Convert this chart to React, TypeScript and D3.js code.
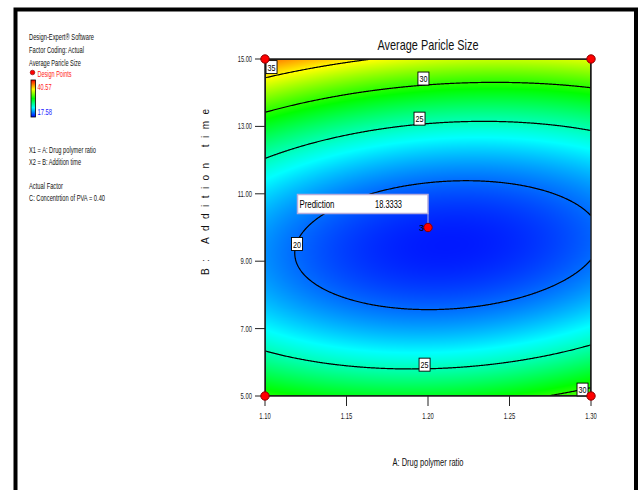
import React, { useMemo } from 'react';
import * as d3 from 'd3';

// ---------- data ----------
const A_DOMAIN = [1.1, 1.3];
const B_DOMAIN = [5.0, 15.0];
const X_TICKS = [1.1, 1.15, 1.2, 1.25, 1.3];
const Y_TICKS = [5, 7, 9, 11, 13, 15];
const CONTOUR_LEVELS = [20, 25, 30, 35];
// coded quadratic response-surface model: Intercept, A, B, AB, A², B²
const MODEL_COEFS = [18.33, -0.65, 2.86, -1.3, 2.15, 12.9];
const RESPONSE_RANGE = [17.58, 40.57];
const COLOR_STOPS = ['#0000ff', '#00ffff', '#00ff00', '#ffff00', '#ff0000'];
const DESIGN_A = [1.1, 1.3, 1.1, 1.3, 1.2];
const DESIGN_B = [15, 15, 5, 5, 10];
const DESIGN_COUNT = [1, 1, 1, 1, 3];
const LABEL_LEVELS = [35, 30, 25, 20, 25, 30];
const LABEL_A = [1.104, 1.1972, 1.1948, 1.1196, 1.1979, 1.2948];
const LABEL_B = [14.76, 14.42, 13.23, 9.51, 5.93, 5.19];
const PREDICTION = { a: 1.2, b: 10, label: 'Prediction', value: '18.3333' };
const LEGEND_LINES = ['Design-Expert® Software', 'Factor Coding: Actual', 'Average Paricle Size'];
const FACTOR_LINES = ['X1 = A: Drug polymer ratio', 'X2 = B: Addition time'];
const ACTUAL_LINES = ['Actual Factor', 'C: Concentrtion of PVA = 0.40'];

const TITLE = 'Average Paricle Size';
const X_LABEL = 'A: Drug polymer ratio';
const Y_LABEL = 'B: Addition time';

// ---------- layout ----------
const W = 639;
const H = 490;
const PL = 265, PR = 591, PT = 59, PB = 396;
const NARROW = "'Liberation Sans Narrow', 'Liberation Sans', Arial, sans-serif";
const SANS = "'Liberation Sans', Arial, sans-serif";

function model(A: number, B: number) {
  const x = (A - 1.2) / 0.1;
  const y = (B - 10) / 5;
  const [c0, cA, cB, cAB, cAA, cBB] = MODEL_COEFS;
  return c0 + cA * x + cB * y + cAB * x * y + cAA * x * x + cBB * y * y;
}

export default function App() {
  const xScale = d3.scaleLinear().domain(A_DOMAIN).range([PL, PR]);
  const yScale = d3.scaleLinear().domain(B_DOMAIN).range([PB, PT]);
  const [lo, hi] = RESPONSE_RANGE;
  const color = d3
    .scaleLinear<string>()
    .domain(COLOR_STOPS.map((_, i) => lo + (i / (COLOR_STOPS.length - 1)) * (hi - lo)))
    .range(COLOR_STOPS)
    .clamp(true);

  const nx = PR - PL;
  const ny = PB - PT;

  const values = useMemo(() => {
    const v = new Float64Array(nx * ny);
    for (let j = 0; j < ny; j++) {
      const B = yScale.invert(PT + j + 0.5);
      for (let i = 0; i < nx; i++) {
        const A = xScale.invert(PL + i + 0.5);
        v[j * nx + i] = model(A, B);
      }
    }
    return v;
  }, []);

  const heatHref = useMemo(() => {
    const canvas = document.createElement('canvas');
    canvas.width = nx;
    canvas.height = ny;
    const ctx = canvas.getContext('2d');
    if (!ctx) return '';
    const img = ctx.createImageData(nx, ny);
    for (let k = 0; k < nx * ny; k++) {
      const c = d3.rgb(color(values[k]));
      img.data[k * 4] = c.r;
      img.data[k * 4 + 1] = c.g;
      img.data[k * 4 + 2] = c.b;
      img.data[k * 4 + 3] = 255;
    }
    ctx.putImageData(img, 0, 0);
    return canvas.toDataURL();
  }, [values]);

  const contourPaths = useMemo(() => {
    const gen = d3.contours().size([nx, ny]).thresholds(CONTOUR_LEVELS);
    const proj = d3.geoTransform({
      point(x: number, y: number) {
        (this as any).stream.point(PL + x, PT + y);
      },
    });
    const path = d3.geoPath(proj);
    return gen(Array.from(values)).map((c) => path(c as any) || '');
  }, [values]);

  const tickW = (s: string) => s.length * 2.85;

  return (
    <svg
      width={W}
      height={H}
      style={{ position: 'absolute', left: 0, top: 0, background: '#fff' }}
      xmlns="http://www.w3.org/2000/svg"
    >
      <rect x={0} y={0} width={W} height={H} fill="#fff" />
      {/* outer frame */}
      <path d={`M15.5,${H + 5} V9.5 H636 V${H + 5}`} fill="none" stroke="#000" strokeWidth={4} />

      {/* legend */}
      <g fontFamily={NARROW} fontSize={9} fill="#111">
        {LEGEND_LINES.map((t, i) => (
          <text key={t} x={29} y={39.5 + i * 13} textLength={[65, 55, 52][i]} lengthAdjust="spacingAndGlyphs">
            {t}
          </text>
        ))}
        <circle cx={32.5} cy={72.5} r={2.3} fill="#ff0000" stroke="#700" strokeWidth={0.6} />
        <text x={37.5} y={76.5} fill="#ff2020" textLength={34} lengthAdjust="spacingAndGlyphs">
          Design Points
        </text>
        <defs>
          <linearGradient id="cbar" x1="0" y1="0" x2="0" y2="1">
            {COLOR_STOPS.slice()
              .reverse()
              .map((c, i) => (
                <stop key={i} offset={`${(i / (COLOR_STOPS.length - 1)) * 100}%`} stopColor={c} />
              ))}
          </linearGradient>
          <clipPath id="plotclip">
            <rect x={PL} y={PT} width={nx} height={ny} />
          </clipPath>
        </defs>
        <rect x={31} y={80} width={4.5} height={37} fill="url(#cbar)" stroke="#000" strokeWidth={0.8} />
        <text x={37.5} y={90} fill="#ff2020" textLength={14} lengthAdjust="spacingAndGlyphs">
          {RESPONSE_RANGE[1].toFixed(2)}
        </text>
        <text x={37.5} y={115} fill="#2020ff" textLength={14.5} lengthAdjust="spacingAndGlyphs">
          {RESPONSE_RANGE[0].toFixed(2)}
        </text>
        {FACTOR_LINES.map((t, i) => (
          <text key={t} x={29} y={152.5 + i * 12} textLength={[67, 52][i]} lengthAdjust="spacingAndGlyphs">
            {t}
          </text>
        ))}
        {ACTUAL_LINES.map((t, i) => (
          <text key={t} x={29} y={188.5 + i * 12} textLength={[34, 76][i]} lengthAdjust="spacingAndGlyphs">
            {t}
          </text>
        ))}
      </g>

      {/* title */}
      <text
        x={(PL + PR) / 2}
        y={50}
        textAnchor="middle"
        fontFamily={NARROW}
        fontSize={15}
        fill="#111"
        textLength={101}
        lengthAdjust="spacingAndGlyphs"
      >
        {TITLE}
      </text>

      {/* heatmap */}
      {heatHref && (
        <image href={heatHref} x={PL} y={PT} width={nx} height={ny} preserveAspectRatio="none" />
      )}

      {/* contours */}
      <g clipPath="url(#plotclip)" fill="none" stroke="#000" strokeWidth={1.2}>
        {contourPaths.map((d, i) => (
          <path key={i} d={d} />
        ))}
      </g>

      {/* contour labels */}
      <g fontFamily={NARROW} fontSize={9.5}>
        {LABEL_LEVELS.map((lv, i) => {
          const cx = xScale(LABEL_A[i]);
          const cy = yScale(LABEL_B[i]);
          return (
            <g key={i}>
              <rect x={cx - 5.5} y={cy - 6.5} width={11} height={13} fill="#fff" stroke="#000" strokeWidth={0.9} />
              <text x={cx} y={cy + 3.5} textAnchor="middle" fill="#000" textLength={8} lengthAdjust="spacingAndGlyphs">
                {lv}
              </text>
            </g>
          );
        })}
      </g>

      {/* plot border */}
      <rect x={PL} y={PT} width={nx} height={ny} fill="none" stroke="#222" strokeWidth={1.5} />

      {/* axes */}
      <g fontFamily={NARROW} fontSize={8.5} fill="#222">
        {Y_TICKS.map((t) => (
          <g key={t}>
            <line x1={PL - 10} x2={PL} y1={yScale(t)} y2={yScale(t)} stroke="#222" strokeWidth={1} />
            <text x={252} y={yScale(t) + 3} textAnchor="end" textLength={tickW(t.toFixed(2))} lengthAdjust="spacingAndGlyphs">
              {t.toFixed(2)}
            </text>
          </g>
        ))}
        {X_TICKS.map((t) => (
          <g key={t}>
            <line x1={xScale(t)} x2={xScale(t)} y1={PB} y2={PB + 10} stroke="#222" strokeWidth={1} />
            <text x={xScale(t)} y={419} textAnchor="middle" textLength={tickW(t.toFixed(2))} lengthAdjust="spacingAndGlyphs">
              {t.toFixed(2)}
            </text>
          </g>
        ))}
      </g>
      <text
        x={(PL + PR) / 2}
        y={466}
        textAnchor="middle"
        fontFamily={NARROW}
        fontSize={10.5}
        fill="#111"
        textLength={71}
        lengthAdjust="spacingAndGlyphs"
      >
        {X_LABEL}
      </text>
      <text
        transform={`translate(208.5,192) rotate(-90)`}
        textAnchor="middle"
        fontFamily={SANS}
        fontSize={10}
        fill="#111"
        textLength={166}
        lengthAdjust="spacing"
      >
        {Y_LABEL}
      </text>

      {/* prediction flag */}
      {(() => {
        const px = xScale(PREDICTION.a);
        const py = yScale(PREDICTION.b);
        return (
          <g>
            <line x1={px} x2={px} y1={py - 14} y2={py - 2} stroke="#b4acdc" strokeWidth={1} />
            <rect x={px - 130.5} y={py - 33} width={130.5} height={19} fill="#fff" stroke="#b4acdc" strokeWidth={1.5} />
            <text x={px - 128.5} y={py - 19.5} fontFamily={NARROW} fontSize={10.5} fill="#000" textLength={35} lengthAdjust="spacingAndGlyphs">
              {PREDICTION.label}
            </text>
            <text x={px - 53} y={py - 19.5} fontFamily={NARROW} fontSize={10.5} fill="#000" textLength={27} lengthAdjust="spacingAndGlyphs">
              {PREDICTION.value}
            </text>
          </g>
        );
      })()}

      {/* design points */}
      {DESIGN_A.map((a, i) => (
        <g key={i}>
          <circle cx={xScale(a)} cy={yScale(DESIGN_B[i])} r={4.2} fill="#ff0000" stroke="#8a0000" strokeWidth={1} />
          {DESIGN_COUNT[i] > 1 && (
            <text
              x={xScale(a) - 4}
              y={yScale(DESIGN_B[i]) + 3.5}
              textAnchor="end"
              fontFamily={NARROW}
              fontSize={9}
              fill="#000"
            >
              {DESIGN_COUNT[i]}
            </text>
          )}
        </g>
      ))}
    </svg>
  );
}
